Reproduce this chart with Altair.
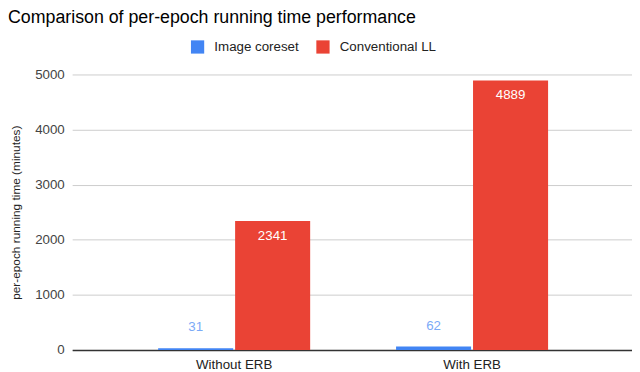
import altair as alt
import pandas as pd

categories = ["Without ERB", "With ERB"]
series = ["Image coreset", "Conventional LL"]
image_coreset = [31, 62]
conventional_ll = [2341, 4889]
y_ticks = [0, 1000, 2000, 3000, 4000, 5000]
colors = ["#4285F4", "#EA4335"]

rows = []
for i, c in enumerate(categories):
    rows.append({"category": c, "series": series[0], "value": image_coreset[i]})
    rows.append({"category": c, "series": series[1], "value": conventional_ll[i]})
df = pd.DataFrame(rows)

FONT = "Liberation Sans"
FS = 13.5

x = alt.X(
    "category:N", sort=categories, title=None,
    scale=alt.Scale(paddingInner=0.361, paddingOuter=0.357, align=0.506),
    axis=alt.Axis(labelAngle=0, labelFontSize=FS, labelColor="#222", labelFont=FONT,
                  domainColor="#333", domainWidth=1.5, ticks=False, labelPadding=8, grid=False),
)
xoff = alt.XOffset("series:N", sort=series, scale=alt.Scale(paddingInner=0.025, paddingOuter=0))
y = alt.Y(
    "value:Q", scale=alt.Scale(domain=[0, 5000]),
    axis=alt.Axis(values=y_ticks, format="d", grid=True, gridColor="#cccccc", domain=False, ticks=False,
                  labelPadding=8, labelFontSize=FS, labelColor="#444", labelFont=FONT,
                  title="per-epoch running time (minutes)", titleFontSize=12,
                  titleFontWeight="normal", titleColor="#222", titleFont=FONT, titlePadding=12),
)

base = alt.Chart(df)

bars = base.mark_bar().encode(
    x=x, xOffset=xoff, y=y,
    color=alt.Color("series:N", sort=series,
                    scale=alt.Scale(domain=series, range=colors),
                    legend=alt.Legend(orient="none", legendX=120, legendY=-35, direction="horizontal",
                                      title=None, symbolType="square", symbolSize=180,
                                      symbolStrokeWidth=0, labelFontSize=FS, labelColor="#222",
                                      labelFont=FONT, columnPadding=17, labelOffset=10, padding=0)),
)

blue_labels = base.transform_filter(alt.datum.series == series[0]).mark_text(
    dy=-21, fontSize=FS, font=FONT, color="#7BAAF7", baseline="middle"
).encode(x=x, xOffset=xoff, y=y, text=alt.Text("value:Q"))

red_labels = base.transform_filter(alt.datum.series == series[1]).mark_text(
    dy=15, fontSize=FS, font=FONT, color="white", baseline="middle"
).encode(x=x, xOffset=xoff, y=y, text=alt.Text("value:Q"))

chart = alt.layer(bars, blue_labels, red_labels).properties(
    width=567, height=279,
    title=alt.TitleParams("Comparison of per-epoch running time performance", anchor="start",
                          frame="group", dx=-65, fontSize=18, font=FONT, fontWeight="normal",
                          color="#000", offset=13),
    autosize=alt.AutoSizeParams(type="none"),
    padding={"left": 65, "top": 65, "right": 0, "bottom": 20},
).configure_view(stroke=None)

chart.save("out.html", embed_options={"renderer": "svg", "actions": False})
